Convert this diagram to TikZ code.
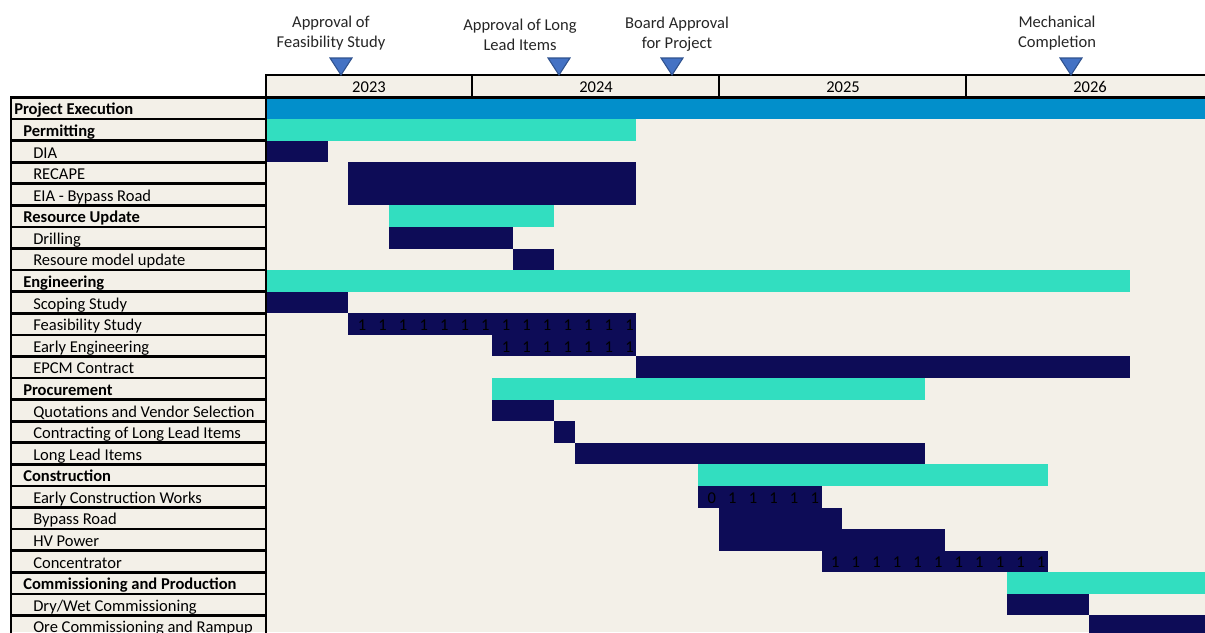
\documentclass[tikz,border=0pt]{standalone}
\usepackage{fontspec}
\setmainfont{Carlito}
\definecolor{bg}{HTML}{F3F0E8}
\definecolor{pblue}{HTML}{028FCB}
\definecolor{tealbar}{HTML}{32DEC0}
\definecolor{navy}{HTML}{0D0C57}
\definecolor{ms}{HTML}{4472C4}
\definecolor{msb}{HTML}{2F528F}
\newcommand\fs{\fontsize{12.4}{14}\selectfont}
\tikzset{
  cellb/.style={draw=black, line width=2},
  lab/.style={inner sep=0pt, font=\fs, text=black},
  labb/.style={lab, font=\fs\bfseries},
  num/.style={inner sep=0pt, font=\fs, text=black, anchor=base east},
  mstext/.style={inner sep=0pt, font=\fs, text=black!85, anchor=base},
  milestone/.style={fill=ms, draw=msb, line width=0.8},
}
\newcommand\glabel[4]{% idx, xpos, style, text
  \pgfmathsetmacro\yt{97.5+21.58*#1}
  \node[#3, anchor=base west] (lab#1) at (#2,{\yt+17.4}) {#4};
}
\newcommand\gcell[1]{%
  \pgfmathsetmacro\yt{97.5+21.58*#1}
  \draw[cellb] (11,\yt) rectangle (266,{\yt+21.58});
}
\newcommand\gbar[4]{% idx, colour, start, end
  \pgfmathsetmacro\yt{97.5+21.58*#1}
  \pgfmathsetmacro\xa{266+20.58*#3}
  \pgfmathsetmacro\xb{min(1205,266+20.58*#4)}
  \fill[#2] (\xa,\yt) rectangle (\xb,{\yt+21.58});
}
\newcommand\gnum[3]{% idx, month, text
  \pgfmathsetmacro\yt{97.5+21.58*#1}
  \pgfmathsetmacro\xn{266+20.58*(#2+1)-2.5}
  \node[num] (n#1m#2) at (\xn,{\yt+17.2}) {#3};
}
\begin{document}
\begin{tikzpicture}[x=0.75pt,y=-0.75pt]
\useasboundingbox (0,0) rectangle (1205,632);
\fill[white] (0,0) rectangle (1205,632);
\fill[bg] (11,97) rectangle (1205,632);
\fill[bg] (266,75) rectangle (1205,97);

% bars
\gbar{0}{pblue}{0}{50}
\gbar{1}{tealbar}{0}{18}
\gbar{2}{navy}{0}{3}
\gbar{3}{navy}{4}{18}
\gbar{4}{navy}{4}{18}
\gbar{5}{tealbar}{6}{14}
\gbar{6}{navy}{6}{12}
\gbar{7}{navy}{12}{14}
\gbar{8}{tealbar}{0}{42}
\gbar{9}{navy}{0}{4}
\gbar{10}{navy}{4}{18}
\gbar{11}{navy}{11}{18}
\gbar{12}{navy}{18}{42}
\gbar{13}{tealbar}{11}{32}
\gbar{14}{navy}{11}{14}
\gbar{15}{navy}{14}{15}
\gbar{16}{navy}{15}{32}
\gbar{17}{tealbar}{21}{38}
\gbar{18}{navy}{21}{27}
\gbar{19}{navy}{22}{28}
\gbar{20}{navy}{22}{33}
\gbar{21}{navy}{27}{38}
\gbar{22}{tealbar}{36}{50}
\gbar{23}{navy}{36}{40}
\gbar{24}{navy}{40}{50}

% numbers inside bars
\foreach \m in {4,...,17} {\gnum{10}{\m}{1}}
\foreach \m in {11,...,17} {\gnum{11}{\m}{1}}
\gnum{18}{21}{0}
\foreach \m in {22,...,26} {\gnum{18}{\m}{1}}
\foreach \m in {27,...,37} {\gnum{21}{\m}{1}}

% label cells
\foreach \i in {0,...,24} {\gcell{\i}}
\glabel{0}{14}{labb}{Project Execution}
\glabel{1}{23}{labb}{Permitting}
\glabel{2}{33}{lab}{DIA}
\glabel{3}{33}{lab}{RECAPE}
\glabel{4}{33}{lab}{EIA - Bypass Road}
\glabel{5}{23}{labb}{Resource Update}
\glabel{6}{33}{lab}{Drilling}
\glabel{7}{33}{lab}{Resoure model update}
\glabel{8}{23}{labb}{Engineering}
\glabel{9}{33}{lab}{Scoping Study}
\glabel{10}{33}{lab}{Feasibility Study}
\glabel{11}{33}{lab}{Early Engineering}
\glabel{12}{33}{lab}{EPCM Contract}
\glabel{13}{23}{labb}{Procurement}
\glabel{14}{33}{lab}{Quotations and Vendor Selection}
\glabel{15}{33}{lab}{Contracting of Long Lead Items}
\glabel{16}{33}{lab}{Long Lead Items}
\glabel{17}{23}{labb}{Construction}
\glabel{18}{33}{lab}{Early Construction Works}
\glabel{19}{33}{lab}{Bypass Road}
\glabel{20}{33}{lab}{HV Power}
\glabel{21}{33}{lab}{Concentrator}
\glabel{22}{23}{labb}{Commissioning and Production}
\glabel{23}{33}{lab}{Dry/Wet Commissioning}
\glabel{24}{33}{lab}{Ore Commissioning and Rampup}

% year header
\draw[cellb] (266,75) rectangle (1215,97.5);
\draw[cellb] (472,75) -- (472,97.5);
\draw[cellb] (719,75) -- (719,97.5);
\draw[cellb] (966,75) -- (966,97.5);
\node[lab, anchor=base] (y2023) at (369,92.5) {2023};
\node[lab, anchor=base] (y2024) at (596,92.5) {2024};
\node[lab, anchor=base] (y2025) at (843,92.5) {2025};
\node[lab, anchor=base] (y2026) at (1090,92.5) {2026};

% milestones
\foreach \n/\x in {a/341,b/559,c/672,d/1071} {
  \coordinate (ms\n) at (\x,75);
  \draw[milestone] (ms\n) -- ++(-11,-17) -- ++(22,0) -- cycle;
}
\node[mstext] (t1a) at (331,27) {Approval of};
\node[mstext] (t1b) at (331,47) {Feasibility Study};
\node[mstext] (t2a) at (520,30.5) {Approval of Long};
\node[mstext] (t2b) at (520,50.5) {Lead Items};
\node[mstext] (t3a) at (677,28.5) {Board Approval};
\node[mstext] (t3b) at (677,48.5) {for Project};
\node[mstext] (t4a) at (1057,27) {Mechanical};
\node[mstext] (t4b) at (1057,47) {Completion};
\end{tikzpicture}
\end{document}
